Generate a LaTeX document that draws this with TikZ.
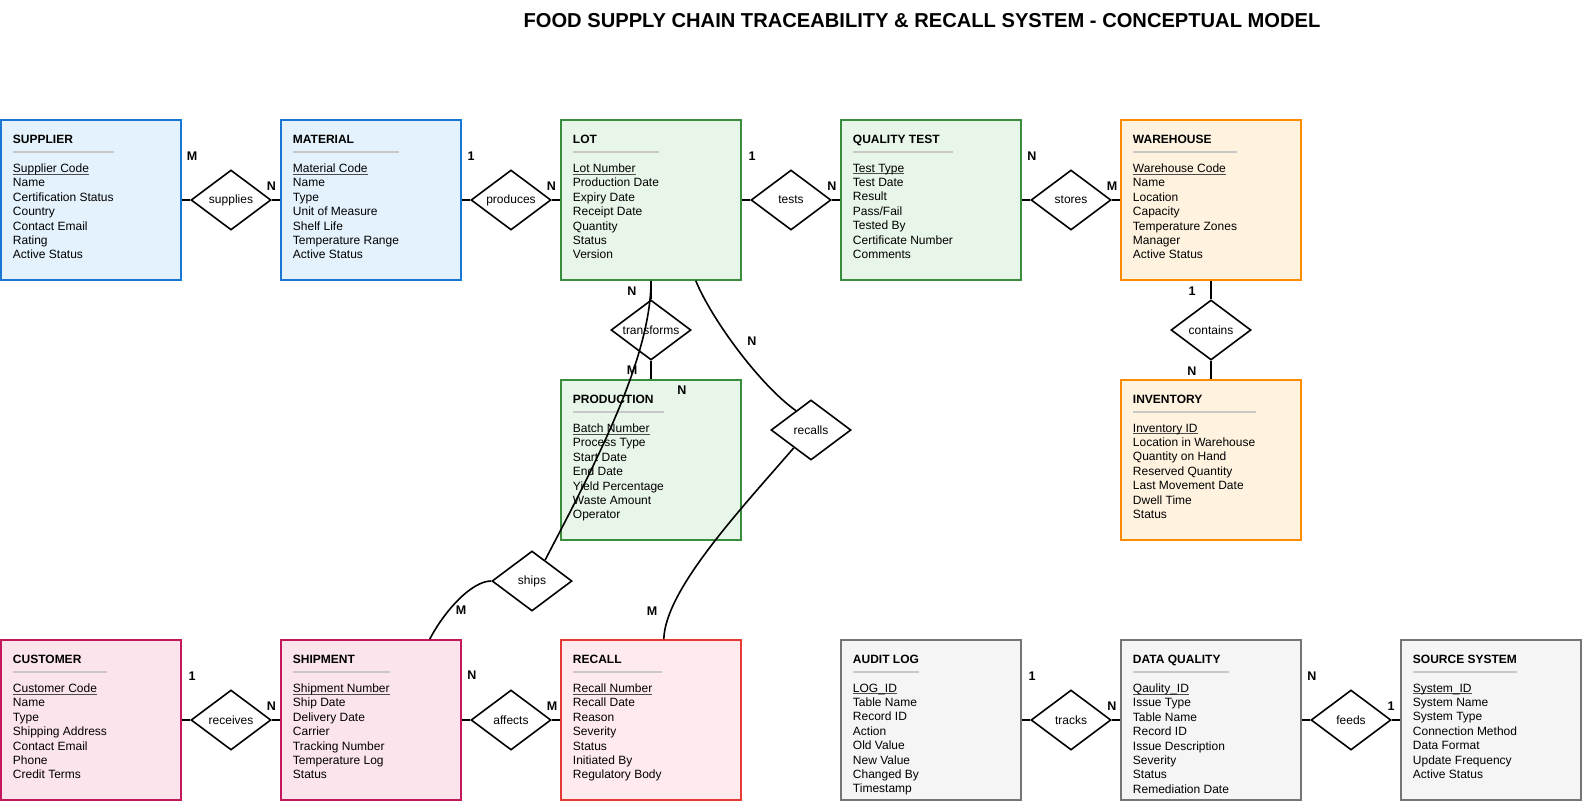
\documentclass[tikz,border=0pt]{standalone}
\usepackage{fontspec}
\setmainfont{Liberation Sans}
\usetikzlibrary{shapes.geometric}
\definecolor{bluefill}{HTML}{E3F2FD}
\definecolor{blueline}{HTML}{1976D2}
\definecolor{greenfill}{HTML}{E8F5E9}
\definecolor{greenline}{HTML}{388E3C}
\definecolor{orangefill}{HTML}{FFF3E0}
\definecolor{orangeline}{HTML}{FB8C00}
\definecolor{pinkfill}{HTML}{FCE4EC}
\definecolor{pinkline}{HTML}{C2185B}
\definecolor{redfill}{HTML}{FFEBEE}
\definecolor{redline}{HTML}{E53935}
\definecolor{grayfill}{HTML}{F5F5F5}
\definecolor{grayline}{HTML}{757575}
\definecolor{sepgray}{HTML}{C8C8C8}
\newcommand{\keyline}[1]{\setbox0=\hbox{#1}\rlap{\color{black!70}\rule[-1.5pt]{\wd0}{0.6pt}}#1}
\begin{document}
\begin{tikzpicture}[x=0.75pt, y=-0.75pt,
  ent/.style={rectangle, line width=1.2pt, minimum width=135pt, minimum height=120pt, inner sep=0pt},
  etitle/.style={anchor=base west, inner sep=0pt, font=\bfseries\fontsize{9}{10.8}\selectfont},
  eattr/.style={anchor=north west, inner sep=0pt, align=left, font=\fontsize{9}{10.8}\selectfont},
  sepline/.style={draw=sepgray, line width=1pt},
  rel/.style={diamond, draw, line width=1.2pt, aspect=1.333, minimum width=60pt, minimum height=45pt, inner sep=0pt, font=\fontsize{9}{10.8}\selectfont},
  card/.style={inner sep=0pt, font=\bfseries\fontsize{9.4}{10.8}\selectfont},
  link/.style={line width=1.2pt}]
\useasboundingbox (0,0) rectangle (1582,801);
\node[inner sep=0pt, font=\bfseries\fontsize{15.1}{17}\selectfont] (title) at (922,21) {FOOD SUPPLY CHAIN TRACEABILITY \& RECALL SYSTEM - CONCEPTUAL MODEL};
\node[ent, fill=bluefill, draw=blueline] (esupplier) at (91,200) {};
\node[etitle] (tsupplier) at ([shift={(12.5,24)}]esupplier.north west) {SUPPLIER};
\node[eattr] (asupplier) at ([shift={(12.5,44.3)}]esupplier.north west) {\keyline{Supplier Code}\\Name\\Certification Status\\Country\\Contact Email\\Rating\\Active Status};
\draw[sepline] ([yshift=8.6pt]asupplier.north west) -- ([yshift=8.6pt]asupplier.north east);
\node[ent, fill=bluefill, draw=blueline] (ematerial) at (371,200) {};
\node[etitle] (tmaterial) at ([shift={(12.5,24)}]ematerial.north west) {MATERIAL};
\node[eattr] (amaterial) at ([shift={(12.5,44.3)}]ematerial.north west) {\keyline{Material Code}\\Name\\Type\\Unit of Measure\\Shelf Life\\Temperature Range\\Active Status};
\draw[sepline] ([yshift=8.6pt]amaterial.north west) -- ([yshift=8.6pt]amaterial.north east);
\node[ent, fill=greenfill, draw=greenline] (elot) at (651,200) {};
\node[etitle] (tlot) at ([shift={(12.5,24)}]elot.north west) {LOT};
\node[eattr] (alot) at ([shift={(12.5,44.3)}]elot.north west) {\keyline{Lot Number}\\Production Date\\Expiry Date\\Receipt Date\\Quantity\\Status\\Version};
\draw[sepline] ([yshift=8.6pt]alot.north west) -- ([yshift=8.6pt]alot.north east);
\node[ent, fill=greenfill, draw=greenline] (equality) at (931,200) {};
\node[etitle] (tquality) at ([shift={(12.5,24)}]equality.north west) {QUALITY TEST};
\node[eattr] (aquality) at ([shift={(12.5,44.3)}]equality.north west) {\keyline{Test Type}\\Test Date\\Result\\Pass/Fail\\Tested By\\Certificate Number\\Comments};
\draw[sepline] ([yshift=8.6pt]aquality.north west) -- ([yshift=8.6pt]aquality.north east);
\node[ent, fill=orangefill, draw=orangeline] (ewarehouse) at (1211,200) {};
\node[etitle] (twarehouse) at ([shift={(12.5,24)}]ewarehouse.north west) {WAREHOUSE};
\node[eattr] (awarehouse) at ([shift={(12.5,44.3)}]ewarehouse.north west) {\keyline{Warehouse Code}\\Name\\Location\\Capacity\\Temperature Zones\\Manager\\Active Status};
\draw[sepline] ([yshift=8.6pt]awarehouse.north west) -- ([yshift=8.6pt]awarehouse.north east);
\node[ent, fill=greenfill, draw=greenline] (eproduction) at (651,460) {};
\node[etitle] (tproduction) at ([shift={(12.5,24)}]eproduction.north west) {PRODUCTION};
\node[eattr] (aproduction) at ([shift={(12.5,44.3)}]eproduction.north west) {\keyline{Batch Number}\\Process Type\\Start Date\\End Date\\Yield Percentage\\Waste Amount\\Operator};
\draw[sepline] ([yshift=8.6pt]aproduction.north west) -- ([yshift=8.6pt]aproduction.north east);
\node[ent, fill=orangefill, draw=orangeline] (einventory) at (1211,460) {};
\node[etitle] (tinventory) at ([shift={(12.5,24)}]einventory.north west) {INVENTORY};
\node[eattr] (ainventory) at ([shift={(12.5,44.3)}]einventory.north west) {\keyline{Inventory ID}\\Location in Warehouse\\Quantity on Hand\\Reserved Quantity\\Last Movement Date\\Dwell Time\\Status};
\draw[sepline] ([yshift=8.6pt]ainventory.north west) -- ([yshift=8.6pt]ainventory.north east);
\node[ent, fill=pinkfill, draw=pinkline] (ecustomer) at (91,720) {};
\node[etitle] (tcustomer) at ([shift={(12.5,24)}]ecustomer.north west) {CUSTOMER};
\node[eattr] (acustomer) at ([shift={(12.5,44.3)}]ecustomer.north west) {\keyline{Customer Code}\\Name\\Type\\Shipping Address\\Contact Email\\Phone\\Credit Terms};
\draw[sepline] ([yshift=8.6pt]acustomer.north west) -- ([yshift=8.6pt]acustomer.north east);
\node[ent, fill=pinkfill, draw=pinkline] (eshipment) at (371,720) {};
\node[etitle] (tshipment) at ([shift={(12.5,24)}]eshipment.north west) {SHIPMENT};
\node[eattr] (ashipment) at ([shift={(12.5,44.3)}]eshipment.north west) {\keyline{Shipment Number}\\Ship Date\\Delivery Date\\Carrier\\Tracking Number\\Temperature Log\\Status};
\draw[sepline] ([yshift=8.6pt]ashipment.north west) -- ([yshift=8.6pt]ashipment.north east);
\node[ent, fill=redfill, draw=redline] (erecall) at (651,720) {};
\node[etitle] (trecall) at ([shift={(12.5,24)}]erecall.north west) {RECALL};
\node[eattr] (arecall) at ([shift={(12.5,44.3)}]erecall.north west) {\keyline{Recall Number}\\Recall Date\\Reason\\Severity\\Status\\Initiated By\\Regulatory Body};
\draw[sepline] ([yshift=8.6pt]arecall.north west) -- ([yshift=8.6pt]arecall.north east);
\node[ent, fill=grayfill, draw=grayline] (eaudit) at (931,720) {};
\node[etitle] (taudit) at ([shift={(12.5,24)}]eaudit.north west) {AUDIT LOG};
\node[eattr] (aaudit) at ([shift={(12.5,44.3)}]eaudit.north west) {\keyline{LOG\_ID}\\Table Name\\Record ID\\Action\\Old Value\\New Value\\Changed By\\Timestamp};
\draw[sepline] ([yshift=8.6pt]aaudit.north west) -- ([yshift=8.6pt]aaudit.north east);
\node[ent, fill=grayfill, draw=grayline] (edataq) at (1211,720) {};
\node[etitle] (tdataq) at ([shift={(12.5,24)}]edataq.north west) {DATA QUALITY};
\node[eattr] (adataq) at ([shift={(12.5,44.3)}]edataq.north west) {\keyline{Qaulity\_ID}\\Issue Type\\Table Name\\Record ID\\Issue Description\\Severity\\Status\\Remediation Date};
\draw[sepline] ([yshift=8.6pt]adataq.north west) -- ([yshift=8.6pt]adataq.north east);
\node[ent, fill=grayfill, draw=grayline] (esource) at (1491,720) {};
\node[etitle] (tsource) at ([shift={(12.5,24)}]esource.north west) {SOURCE SYSTEM};
\node[eattr] (asource) at ([shift={(12.5,44.3)}]esource.north west) {\keyline{System\_ID}\\System Name\\System Type\\Connection Method\\Data Format\\Update Frequency\\Active Status};
\draw[sepline] ([yshift=8.6pt]asource.north west) -- ([yshift=8.6pt]asource.north east);
\node[rel] (rsupplies) at (231,200) {supplies};
\draw[link] (esupplier) -- (rsupplies);
\draw[link] (rsupplies) -- (ematerial);
\node[card] (c1) at (192,156) {M};
\node[card] (c2) at (271.5,186) {N};
\node[rel] (rproduces) at (511,200) {produces};
\draw[link] (ematerial) -- (rproduces);
\draw[link] (rproduces) -- (elot);
\node[card] (c3) at (471,156) {1};
\node[card] (c4) at (551.5,186) {N};
\node[rel] (rtests) at (791,200) {tests};
\draw[link] (elot) -- (rtests);
\draw[link] (rtests) -- (equality);
\node[card] (c5) at (752,156) {1};
\node[card] (c6) at (832,186) {N};
\node[rel] (rstores) at (1071,200) {stores};
\draw[link] (equality) -- (rstores);
\draw[link] (rstores) -- (ewarehouse);
\node[card] (c7) at (1032,156) {N};
\node[card] (c8) at (1112,186) {M};
\node[rel] (rcontains) at (1211,330) {contains};
\draw[link] (ewarehouse) -- (rcontains);
\draw[link] (rcontains) -- (einventory);
\node[card] (c9) at (1192,291) {1};
\node[card] (c10) at (1192,371) {N};
\node[rel] (rtransforms) at (651,330) {transforms};
\draw[link] (elot) -- (rtransforms);
\draw[link] (rtransforms) -- (eproduction);
\node[card] (c11) at (632,291) {N};
\node[card] (c12) at (632,370) {M};
\node[card] (c13) at (682,390) {N};
\node[rel] (rrecalls) at (811,430) {recalls};
\draw[link] (elot.-61.2) .. controls (712,320) and (760,385) .. (rrecalls.128.7);
\draw[link] (rrecalls.-134.6) .. controls (740,510) and (665,590) .. (erecall.81.5);
\node[card] (c14) at (752,341) {N};
\node[card] (c15) at (652,611) {M};
\node[rel] (rships) at (532,581) {ships};
\draw[link] (elot.south) .. controls (651,360) and (592,470) .. (rships.58);
\draw[link] (rships.west) .. controls (472,581) and (445,610) .. (eshipment.54.5);
\node[card] (c16) at (461,610) {M};
\node[rel] (rreceives) at (231,720) {receives};
\draw[link] (ecustomer) -- (rreceives);
\draw[link] (rreceives) -- (eshipment);
\node[card] (c17) at (192,676) {1};
\node[card] (c18) at (271.5,706) {N};
\node[rel] (raffects) at (511,720) {affects};
\draw[link] (eshipment) -- (raffects);
\draw[link] (raffects) -- (erecall);
\node[card] (c19) at (472,675) {N};
\node[card] (c20) at (552,706) {M};
\node[rel] (rtracks) at (1071,720) {tracks};
\draw[link] (eaudit) -- (rtracks);
\draw[link] (rtracks) -- (edataq);
\node[card] (c21) at (1032,676) {1};
\node[card] (c22) at (1112,706) {N};
\node[rel] (rfeeds) at (1351,720) {feeds};
\draw[link] (edataq) -- (rfeeds);
\draw[link] (rfeeds) -- (esource);
\node[card] (c23) at (1312,676) {N};
\node[card] (c24) at (1391,706) {1};
\end{tikzpicture}
\end{document}
